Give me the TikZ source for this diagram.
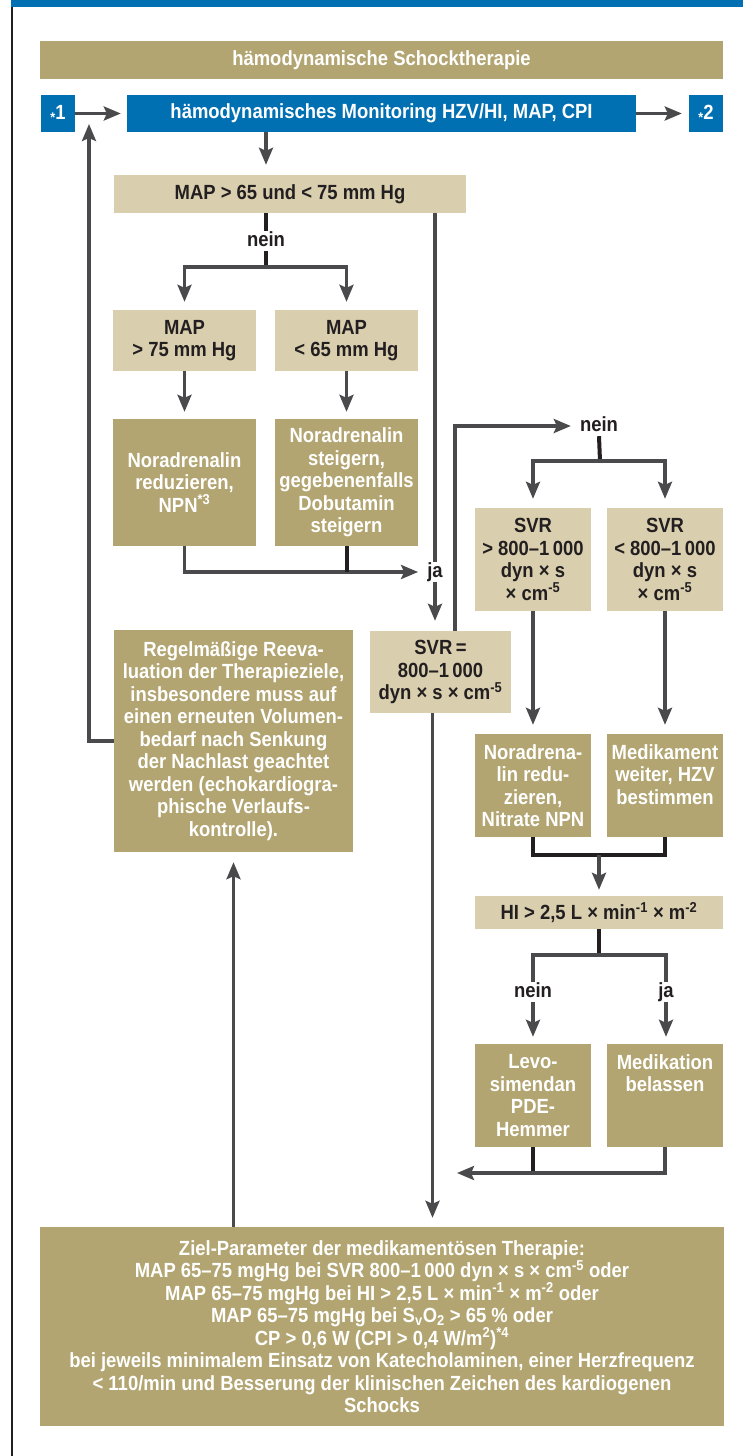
\documentclass[tikz,border=0pt]{standalone}
\usepackage{fontspec}
\setmainfont{Liberation Sans}[FakeStretch=0.9]
\usetikzlibrary{arrows.meta}
\definecolor{shblue}{HTML}{0070B2}
\definecolor{shdark}{HTML}{B2A571}
\definecolor{shlight}{HTML}{D9CFAF}
\definecolor{shgray}{HTML}{4A4A4C}
\definecolor{shblack}{HTML}{231F20}

\tikzset{
  box/.style={inner sep=0pt, align=center, font=\bfseries\fontsize{20.5}{22.5}\selectfont},
  darkbox/.style={box, fill=shdark, text=white},
  lightbox/.style={box, fill=shlight, text=shblack},
  bluebox/.style={box, fill=shblue, text=white},
  lbl/.style={inner sep=1pt, text height=14pt, text depth=4pt, text=shblack,
    font=\bfseries\fontsize{20.5}{22.5}\selectfont},
  gline/.style={draw=shgray, line width=3.2pt},
  arr/.style={gline, -{Stealth[width=14pt,length=17pt,inset=3pt]}},
  joinline/.style={draw=shblack, line width=4pt},
}
\newcommand{\starmark}[1]{\raisebox{-3pt}{\fontsize{14}{14}\selectfont*}#1}

\begin{document}
\begin{tikzpicture}[x=1pt,y=-1pt]
  \useasboundingbox (0,0) rectangle (743,1456);
  \fill[white] (0,0) rectangle (743,1456);
  \fill[shblue] (11,0) rectangle (743,7);
  \draw[shblack, line width=2pt] (12,7) -- (12,1456);

  % top row
  \node[darkbox, minimum width=683pt, minimum height=38pt] (title) at (381.5,60)
    {hämodynamische Schocktherapie};
  \node[bluebox, minimum width=34pt, minimum height=37pt] (star1) at (58,113.5) {\starmark{1}};
  \node[bluebox, minimum width=509pt, minimum height=37pt] (monitor) at (381.5,113.5)
    {hämodynamisches Monitoring HZV/HI, MAP, CPI};
  \node[bluebox, minimum width=34pt, minimum height=37pt] (star2) at (706,113.5) {\starmark{2}};

  % MAP branch
  \node[lightbox, minimum width=352pt, minimum height=38pt] (mapq) at (290,194)
    {MAP > 65 und < 75 mm Hg};
  \node[lbl] (nein1) at (266,241) {nein};
  \node[lightbox, minimum width=143pt, minimum height=61pt] (mapgt) at (184.5,340.5)
    {MAP\\> 75 mm Hg};
  \node[lightbox, minimum width=143pt, minimum height=61pt] (maplt) at (346.5,340.5)
    {MAP\\< 65 mm Hg};
  \node[darkbox, minimum width=143pt, minimum height=127pt] (nred) at (184.5,482.5)
    {Noradrenalin\\reduzieren,\\NPN\textsuperscript{*3}};
  \node[darkbox, minimum width=143pt, minimum height=127pt] (nup) at (346.5,482.5)
    {Noradrenalin\\steigern,\\gegebenenfalls\\Dobutamin\\steigern};
  \node[lbl] (ja1) at (435,572) {ja};

  % SVR branch
  \node[lbl] (nein2) at (599,426) {nein};
  \node[lightbox, minimum width=116pt, minimum height=103pt] (svrgt) at (533,559.5)
    {SVR\\> 800–1\,000\\dyn × s\\× cm\textsuperscript{-5}};
  \node[lightbox, minimum width=116pt, minimum height=103pt] (svrlt) at (665,559.5)
    {SVR\\< 800–1\,000\\dyn × s\\× cm\textsuperscript{-5}};
  \node[darkbox, minimum width=239pt, minimum height=222pt] (regel) at (233.5,741)
    {Regelmäßige Reeva-\\luation der Therapieziele,\\insbesondere muss auf\\einen erneuten Volumen-\\bedarf nach Senkung\\der Nachlast geachtet\\werden (echokardiogra-\\phische Verlaufs-\\kontrolle).};
  \node[lightbox, minimum width=141pt, minimum height=82pt] (svreq) at (440.5,672)
    {SVR\,=\\800–1\,000\\dyn × s × cm\textsuperscript{-5}};
  \node[darkbox, minimum width=116pt, minimum height=103pt] (nred2) at (533,785.5)
    {Noradrena-\\lin redu-\\zieren,\\Nitrate NPN};
  \node[darkbox, minimum width=116pt, minimum height=103pt] (medw) at (665,785.5)
    {Medikament\\weiter, HZV\\bestimmen\\~};
  \node[lightbox, minimum width=248pt, minimum height=33pt] (hi) at (599,912.5)
    {HI > 2,5 L × min\textsuperscript{-1} × m\textsuperscript{-2}};
  \node[lbl] (nein3) at (533,992) {nein};
  \node[lbl] (ja2) at (666,992) {ja};
  \node[darkbox, minimum width=116pt, minimum height=103pt] (levo) at (533,1095.5)
    {Levo-\\simendan\\PDE-\\Hemmer};
  \node[darkbox, minimum width=116pt, minimum height=103pt] (medb) at (665,1095.5)
    {Medikation\\belassen\\~\\~};

  % target
  \node[darkbox, minimum width=684pt, minimum height=199pt] (ziel) at (382,1326.5)
    {Ziel-Parameter der medikamentösen Therapie:\\
     MAP 65–75 mgHg bei SVR 800–1\,000 dyn × s × cm\textsuperscript{-5} oder\\
     MAP 65–75 mgHg bei HI > 2,5 L × min\textsuperscript{-1} × m\textsuperscript{-2} oder\\
     MAP 65–75 mgHg bei S\textsubscript{v}O\textsubscript{2} > 65 \% oder\\
     CP > 0,6 W (CPI > 0,4 W/m\textsuperscript{2})\textsuperscript{*4}\\
     bei jeweils minimalem Einsatz von Katecholaminen, einer Herzfrequenz\\
     < 110/min und Besserung der klinischen Zeichen des kardiogenen\\
     Schocks};

  \coordinate (f1) at (266,267);
  \coordinate (f2) at (600,461);
  \coordinate (f3) at (599,855);
  \coordinate (f4) at (599,955);
  \coordinate (f5) at (533,1173);
  \coordinate (e1) at (89,124);
  \coordinate (e5) at (457,1173);

  % connectors
  \draw[arr, shorten >=6pt] (star1) -- (monitor);
  \draw[arr, shorten >=7pt] (monitor) -- (star2);
  \draw[arr, shorten >=10pt] (nein1 |- monitor.south) -- (nein1 |- mapq.north);
  \draw[joinline] (nein1 |- mapq.south) -- (nein1.north);
  \draw[joinline] (nein1.south) -- (f1);
  \draw[arr, shorten >=8pt] (f1) -| (mapgt.north);
  \draw[arr, shorten >=8pt] (f1) -| (maplt.north);
  \draw[arr, shorten >=7pt] (mapgt) -- (nred);
  \draw[arr, shorten >=7pt] (maplt) -- (nup);
  \draw[arr, shorten >=8pt] (nred.south) |- (ja1.west);
  \draw[joinline] (nup.south) -- (nup.south |- ja1.west);
  \draw[gline] (ja1 |- mapq.south) -- (ja1.north);
  \draw[arr, shorten >=10pt] (ja1.south) -- (ja1 |- svreq.north);

  \draw[arr, shorten >=8pt] ([xshift=14.5pt]svreq.north) |- (nein2.west);
  \draw[joinline] (nein2.south) -- (f2);
  \draw[arr, shorten >=9pt] (f2) -| (svrgt.north);
  \draw[arr, shorten >=9pt] (f2) -| (svrlt.north);
  \draw[arr, shorten >=9pt] (svrgt) -- (nred2);
  \draw[arr, shorten >=9pt] (svrlt) -- (medw);
  \draw[joinline] (nred2.south) |- (f3) -| (medw.south);
  \draw[arr, shorten >=6pt] (f3) -- (hi.north);
  \draw[joinline] (hi.south) -- (f4);
  \draw[gline] (nein3.north) |- (f4) -| (ja2.north);
  \draw[arr, shorten >=7pt] (nein3.south) -- (levo.north);
  \draw[arr, shorten >=7pt] (ja2.south) -- (ja2 |- medb.north);
  \draw[joinline] (levo.south) -- (f5);
  \draw[gline] (medb.south) |- (f5);
  \draw[arr] (f5) -- (e5);

  \draw[arr, shorten >=9pt] ([xshift=-8pt]svreq.south) -- ([xshift=-8pt]svreq.south |- ziel.north);
  \draw[arr, shorten >=10pt] (regel.south |- ziel.north) -- (regel.south);
  \draw[arr] (regel.west) -| (e1);
\end{tikzpicture}
\end{document}
